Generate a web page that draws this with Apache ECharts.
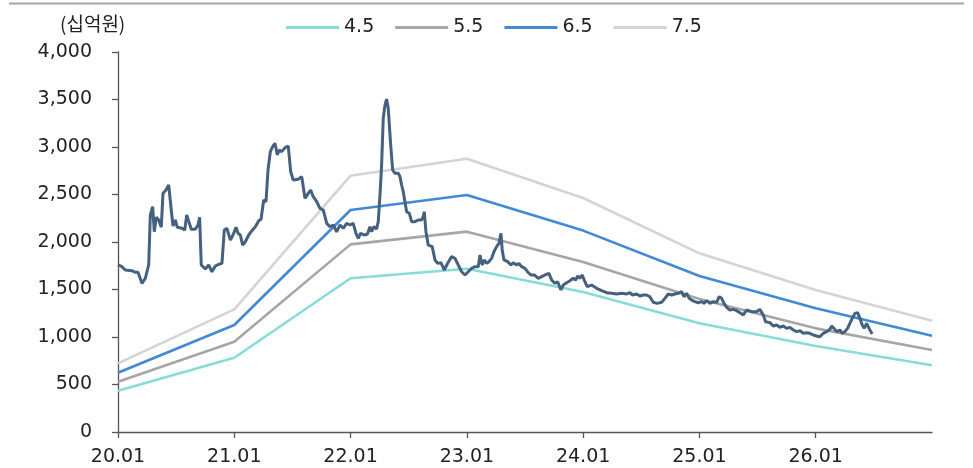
<!DOCTYPE html>
<html><head><meta charset="utf-8">
<script src="https://cdn.jsdelivr.net/npm/echarts@6/dist/echarts.min.js"></script>
<style>html,body{margin:0;padding:0;background:#fff}#c{width:973px;height:468px}</style>
</head><body><div id="c"></div>
<script>
// Band years (20 = 2020.01)
const bandYears = [20, 21, 22, 23, 24, 25, 26, 27];
const band45 = [435, 782, 1618, 1719, 1474, 1144, 905, 702];
const band55 = [530, 951, 1975, 2109, 1790, 1400, 1091, 863];
const band65 = [624, 1126, 2337, 2495, 2120, 1642, 1302, 1014];
const band75 = [723, 1291, 2698, 2877, 2463, 1881, 1495, 1172];
const bandNames = ['4.5', '5.5', '6.5', '7.5'];
const xTickValues = [20, 21, 22, 23, 24, 25, 26];
const yTicks = [0, 500, 1000, 1500, 2000, 2500, 3000, 3500, 4000];

// Market cap series (x in years since 2000, value in 십억원)
const priceX = [20.000,20.034,20.063,20.120,20.149,20.172,20.206,20.235,20.264,20.278,20.298,20.312,20.329,20.350,20.372,20.387,20.413,20.436,20.458,20.473,20.493,20.510,20.550,20.574,20.591,20.608,20.630,20.665,20.688,20.702,20.716,20.751,20.780,20.808,20.837,20.866,20.894,20.914,20.937,20.966,20.989,21.015,21.032,21.052,21.072,21.095,21.124,21.152,21.181,21.210,21.230,21.253,21.273,21.290,21.310,21.330,21.350,21.370,21.387,21.408,21.436,21.464,21.485,21.507,21.550,21.580,21.608,21.636,21.657,21.679,21.709,21.737,21.765,21.795,21.823,21.851,21.880,21.909,21.937,21.966,21.995,22.023,22.046,22.066,22.087,22.115,22.144,22.167,22.181,22.201,22.224,22.238,22.253,22.267,22.281,22.296,22.310,22.324,22.345,22.362,22.382,22.410,22.425,22.439,22.453,22.468,22.482,22.505,22.525,22.554,22.582,22.611,22.625,22.634,22.648,22.668,22.702,22.726,22.749,22.777,22.806,22.835,22.869,22.898,22.926,22.955,22.984,23.012,23.041,23.070,23.098,23.113,23.132,23.150,23.170,23.190,23.213,23.233,23.256,23.276,23.293,23.304,23.319,23.351,23.379,23.399,23.428,23.448,23.471,23.500,23.528,23.551,23.580,23.614,23.643,23.672,23.706,23.729,23.758,23.781,23.809,23.829,23.858,23.886,23.915,23.936,23.953,23.972,23.992,24.015,24.035,24.073,24.116,24.159,24.202,24.245,24.288,24.331,24.374,24.402,24.426,24.460,24.488,24.517,24.546,24.574,24.603,24.637,24.675,24.703,24.732,24.761,24.789,24.818,24.847,24.867,24.890,24.912,24.933,24.961,24.990,25.019,25.039,25.062,25.090,25.119,25.148,25.170,25.191,25.211,25.234,25.262,25.291,25.320,25.348,25.377,25.406,25.449,25.492,25.520,25.549,25.569,25.606,25.635,25.664,25.692,25.721,25.750,25.778,25.807,25.836,25.864,25.893,25.922,25.950,25.979,26.008,26.036,26.065,26.094,26.122,26.137,26.157,26.180,26.208,26.228,26.251,26.274,26.294,26.314,26.337,26.360,26.380,26.400,26.417,26.438,26.466,26.486];
const priceY = [1758,1740,1705,1698,1681,1681,1565,1618,1758,2284,2372,2108,2260,2232,2155,2512,2547,2600,2337,2168,2232,2155,2144,2126,2284,2267,2134,2134,2179,2260,1758,1716,1758,1687,1747,1765,1776,2126,2144,2021,2074,2155,2092,2074,1968,2003,2074,2119,2161,2224,2239,2442,2424,2758,2951,3003,3039,2916,2968,2951,2993,3011,2740,2653,2660,2688,2460,2512,2547,2477,2424,2354,2337,2196,2161,2179,2108,2179,2144,2196,2179,2196,2092,2039,2092,2074,2081,2161,2108,2161,2137,2214,2495,2811,3302,3442,3505,3407,3021,2758,2723,2723,2688,2600,2530,2547,2319,2302,2214,2214,2232,2232,2267,2319,2108,1968,1951,1811,1775,1782,1705,1776,1846,1828,1758,1687,1653,1687,1723,1740,1740,1863,1758,1811,1776,1793,1828,1898,1951,1986,2092,1916,1811,1793,1758,1782,1758,1775,1740,1723,1677,1653,1653,1618,1635,1653,1670,1600,1565,1582,1495,1547,1572,1593,1618,1600,1642,1618,1653,1582,1530,1547,1512,1488,1466,1460,1453,1460,1453,1466,1442,1453,1432,1442,1442,1424,1365,1354,1365,1407,1453,1442,1453,1460,1477,1424,1460,1407,1389,1372,1361,1372,1354,1382,1354,1372,1365,1424,1407,1354,1312,1284,1291,1277,1256,1232,1284,1267,1267,1291,1232,1161,1151,1116,1126,1102,1116,1091,1102,1074,1056,1066,1039,1045,1039,1021,1011,1003,1039,1056,1081,1116,1091,1056,1074,1039,1056,1091,1144,1196,1249,1256,1196,1126,1091,1144,1074,1032];

const FONT = '"DejaVu Sans", "Noto Sans CJK KR", sans-serif';
const KFONT = '"Noto Sans CJK KR", "DejaVu Sans", sans-serif';
const bandColors = ['#86dcd6', '#a6a6a6', '#4189d4', '#d4d4d4'];
const bandData = [band45, band55, band65, band75];

const chart = echarts.init(document.getElementById('c'), null, {renderer: 'canvas'});
const series = bandNames.map((n, i) => ({
  name: n, type: 'line', symbol: 'none', z: 2,
  data: bandYears.map((x, j) => [x, bandData[i][j]]),
  lineStyle: {color: bandColors[i], width: 2.6},
  itemStyle: {color: bandColors[i]}
}));
series.push({
  name: '시가총액', type: 'line', symbol: 'none', z: 3,
  data: priceX.map((x, j) => [x, priceY[j]]),
  lineStyle: {color: '#46607f', width: 3}
});

chart.setOption({
  animation: false,
  textStyle: {fontFamily: FONT},
  grid: {left: 118, right: 41, top: 52, bottom: 36},
  legend: {
    data: bandNames, left: 281, top: 13, icon: 'rect',
    itemWidth: 53, itemHeight: 3, itemGap: 21,
    textStyle: {fontSize: 19, color: '#222', fontFamily: FONT}
  },
  xAxis: {
    type: 'value', min: 20, max: 27,
    splitLine: {show: false},
    axisLine: {show: true, lineStyle: {color: '#555', width: 1.3}},
    axisTick: {show: true, length: 6, customValues: xTickValues, lineStyle: {color: '#555', width: 1.3}},
    axisLabel: {customValues: xTickValues, formatter: v => v + '.01', fontSize: 19, color: '#222', margin: 16, fontFamily: FONT}
  },
  yAxis: {
    type: 'value', min: 0, max: 4000, interval: 500,
    splitLine: {show: false},
    axisLine: {show: true, lineStyle: {color: '#555', width: 1.3}},
    axisTick: {show: true, length: 6, lineStyle: {color: '#555', width: 1.3}},
    axisLabel: {fontSize: 19, color: '#222', margin: 26, fontFamily: FONT,
      formatter: v => v.toLocaleString('en-US')}
  },
  graphic: [
    {type: 'line', shape: {x1: 9, y1: 3.5, x2: 964, y2: 3.5}, style: {stroke: '#a6a6a6', lineWidth: 2}},
    {type: 'text', left: 60, top: 14, style: {text: '(십억원)', fontSize: 19, fill: '#222', fontFamily: KFONT}}
  ],
  series: series
});
</script></body></html>
